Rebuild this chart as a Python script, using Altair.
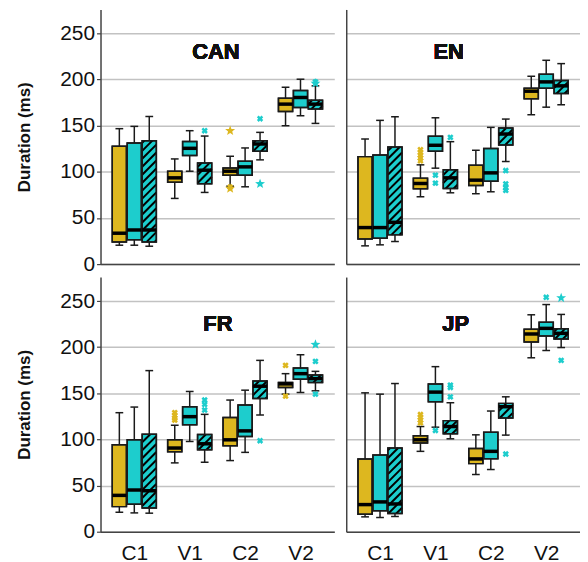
import math
import altair as alt
import pandas as pd

PANELS = ["CAN", "EN", "FR", "JP"]
CATEGORIES = ["C1", "V1", "C2", "V2"]
SERIES = ["gold", "cyan", "cyan_hatched"]
SERIES_COLORS = ["#DDB71F", "#1DCDCD", "#1DCDCD"]

# (lower whisker, Q1, median, Q3, upper whisker); order: C1 gold/cyan/hatched, V1 ..., C2 ..., V2 ...
CAN_BOXES = [
    (20.5, 24.1, 33.5, 127.7, 146.8), (20.5, 26.3, 37.0, 131.3, 149.3), (19.4, 24.1, 37.0, 133.8, 160.0),
    (71.2, 88.8, 93.5, 100.7, 114.0), (100.7, 117.6, 125.5, 133.0, 144.6), (77.7, 87.0, 101.8, 109.7, 138.8),
    (84.5, 96.4, 100.7, 104.3, 116.9), (83.8, 96.4, 105.4, 111.5, 125.9), (113.0, 122.3, 130.2, 133.8, 142.8),
    (150.0, 165.5, 173.4, 179.9, 191.7), (160.8, 169.8, 180.6, 188.1, 200.4), (152.5, 168.0, 173.4, 177.7, 193.2),
]
EN_BOXES = [
    (19.8, 27.3, 39.6, 116.5, 135.6), (20.9, 28.1, 39.6, 118.3, 155.8), (24.5, 31.7, 45.3, 127.0, 159.7),
    (73.0, 81.7, 87.4, 93.2, 107.6), (104.0, 122.3, 128.8, 138.5, 158.6), (77.3, 82.0, 93.5, 102.2, 132.7),
    (76.3, 85.3, 91.0, 107.2, 123.4), (78.4, 89.9, 98.9, 125.2, 148.2), (111.2, 129.1, 141.0, 147.5, 157.2),
    (161.9, 179.1, 187.4, 190.6, 203.6), (170.1, 190.6, 197.5, 205.8, 220.9), (172.7, 184.9, 193.2, 198.9, 217.3),
]
FR_BOXES = [
    (21.1, 27.2, 39.4, 94.3, 129.0), (20.4, 29.7, 45.2, 99.6, 135.1), (20.1, 25.8, 44.4, 105.7, 174.6),
    (74.6, 86.7, 90.7, 99.6, 115.4), (97.8, 115.8, 124.7, 135.5, 152.0), (75.3, 88.9, 95.3, 105.4, 127.2),
    (77.1, 93.2, 99.6, 123.7, 142.7), (86.0, 103.2, 109.3, 137.3, 153.4), (126.5, 144.4, 157.7, 163.4, 185.7),
    (149.1, 156.3, 160.2, 161.6, 171.3), (150.9, 165.2, 171.3, 177.4, 191.8), (152.7, 161.6, 165.9, 169.9, 173.8),
]
JP_BOXES = [
    (16.1, 19.0, 29.4, 78.9, 150.5), (15.4, 22.6, 32.3, 83.2, 149.1), (16.5, 19.7, 30.1, 90.7, 160.6),
    (87.1, 96.1, 99.6, 103.9, 114.0), (113.3, 140.9, 151.3, 160.2, 178.9), (100.7, 106.1, 114.0, 120.4, 139.8),
    (62.0, 73.8, 78.9, 90.3, 105.0), (67.4, 79.2, 87.1, 107.9, 130.8), (104.7, 123.3, 135.5, 139.1, 146.2),
    (188.5, 205.7, 214.3, 219.4, 235.1), (196.4, 212.2, 220.4, 226.9, 246.2), (199.6, 208.9, 215.0, 220.1, 235.5),
]

# outliers: (category, series index, value, kind)
CAN_OUT = [("V1", 2, 144.6, "x"), ("C2", 0, 144.6, "star"), ("C2", 0, 83.5, "x"), ("C2", 0, 82.0, "star"),
           ("C2", 2, 157.6, "x"), ("C2", 2, 87.0, "star"), ("V2", 2, 197.5, "x"), ("V2", 2, 196.0, "star")]
EN_OUT = [("V1", 0, 124.0, "x"), ("V1", 0, 121.0, "x"), ("V1", 0, 118.0, "x"), ("V1", 0, 115.0, "x"),
          ("V1", 0, 112.0, "x"), ("V1", 1, 96.4, "x"), ("V1", 1, 87.8, "x"), ("V1", 2, 137.4, "x"),
          ("C2", 2, 101.4, "x"), ("C2", 2, 87.0, "x"), ("C2", 2, 82.7, "x"), ("C2", 2, 79.9, "x")]
FR_OUT = [("V1", 0, 129.0, "x"), ("V1", 0, 126.0, "x"), ("V1", 0, 123.0, "x"), ("V1", 0, 121.0, "x"),
          ("V1", 2, 142.7, "x"), ("V1", 2, 138.0, "x"), ("V1", 2, 131.9, "x"), ("C2", 2, 98.6, "x"),
          ("V2", 0, 180.3, "x"), ("V2", 0, 147.0, "x"), ("V2", 2, 202.9, "star"), ("V2", 2, 184.6, "x"),
          ("V2", 2, 149.1, "x")]
JP_OUT = [("V1", 0, 127.0, "x"), ("V1", 0, 124.0, "x"), ("V1", 0, 121.0, "x"), ("V1", 0, 118.0, "x"),
          ("V1", 1, 109.7, "x"), ("V1", 2, 158.8, "x"), ("V1", 2, 156.3, "x"), ("V1", 2, 146.2, "x"),
          ("C2", 2, 84.2, "x"), ("V2", 1, 254.1, "x"), ("V2", 2, 253.4, "star"), ("V2", 2, 185.7, "x")]

Y_TICKS = [0, 50, 100, 150, 200, 250]

# layout constants
W, H = 235, 256
XDOM = [-0.61, 3.61]
YDOM = [0, 276]
OFFSETS = [-0.27, 0.0, 0.27]
HALF_BOX = 0.128
HALF_CAP = 0.07
HATCH_STEP = 8.0  # px, vertical period of hatch lines
FONT = "Liberation Sans"

PX_X = W / (XDOM[1] - XDOM[0])
PX_Y = H / (YDOM[1] - YDOM[0])

# five-pointed star symbol path (unit square)
_pts = []
for k in range(10):
    r = 1.0 if k % 2 == 0 else 0.42
    a = math.radians(-90 + 36 * k)
    _pts.append(f"{r * math.cos(a):.3f},{r * math.sin(a):.3f}")
STAR_PATH = "M" + " L".join(_pts) + " Z"


def hatch_segments(x0, x1, y0, y1):
    X0, X1 = (x0 - XDOM[0]) * PX_X, (x1 - XDOM[0]) * PX_X
    Y0, Y1 = (y0 - YDOM[0]) * PX_Y, (y1 - YDOM[0]) * PX_Y
    segs = []
    c = (int((Y0 - X1) // HATCH_STEP) + 1) * HATCH_STEP
    while c < Y1 - X0:
        xa = max(X0, Y0 - c)
        xb = min(X1, Y1 - c)
        if xb > xa + 0.5:
            segs.append((xa / PX_X + XDOM[0], (xa + c) / PX_Y + YDOM[0],
                         xb / PX_X + XDOM[0], (xb + c) / PX_Y + YDOM[0]))
        c += HATCH_STEP
    return segs


def make_panel(name, boxes, outliers, x_labels, y_labels, title_x, title_y):
    rows = []
    hatch = []
    for i, (lw, q1, med, q3, uw) in enumerate(boxes):
        ci, si = divmod(i, 3)
        pos = ci + OFFSETS[si]
        rows.append(dict(series=SERIES[si], pos=pos, left=pos - HALF_BOX, right=pos + HALF_BOX,
                         capl=pos - HALF_CAP, capr=pos + HALF_CAP,
                         lw=lw, q1=q1, med=med, q3=q3, uw=uw))
        if si == 2:
            for (a, b, c, d) in hatch_segments(pos - HALF_BOX, pos + HALF_BOX, q1, q3):
                hatch.append(dict(hx1=a, hy1=b, hx2=c, hy2=d))
    df = pd.DataFrame(rows)
    hdf = pd.DataFrame(hatch)
    odf = pd.DataFrame([dict(series=SERIES[s], pos=CATEGORIES.index(c) + OFFSETS[s], val=v, kind=k)
                        for (c, s, v, k) in outliers])

    xaxis = alt.Axis(values=[0, 1, 2, 3], labelExpr="['C1','V1','C2','V2'][round(datum.value)]",
                     labels=x_labels, ticks=False, grid=False, domain=True, title=None,
                     labelFontSize=21, labelPadding=11 if x_labels else 0, labelColor="#111",
                     labelFont=FONT, domainColor="#444", domainWidth=1.5)
    yaxis = alt.Axis(values=Y_TICKS, labels=y_labels, ticks=y_labels, tickSize=4, tickColor="#444",
                     tickWidth=1.2,
                     grid=True, gridColor="#c2c2c2", gridWidth=1.5, domain=True,
                     domainColor="#444", domainWidth=1.5,
                     title="Duration (ms)" if y_labels else None,
                     titleFontSize=17, titleFontWeight="bold", titleFont=FONT, titleColor="#111",
                     titlePadding=26, labelFontSize=21, labelColor="#111", labelFont=FONT,
                     labelPadding=2 if y_labels else 0)
    xs = alt.Scale(domain=XDOM, nice=False, zero=False)
    ys = alt.Scale(domain=YDOM, nice=False, zero=True)

    def X(f):
        return alt.X(f, type="quantitative", scale=xs, axis=xaxis)

    def Y(f):
        return alt.Y(f, type="quantitative", scale=ys, axis=yaxis)

    col = alt.Color("series:N", scale=alt.Scale(domain=SERIES, range=SERIES_COLORS), legend=None)
    base = alt.Chart(df)
    stroke = "#1a1a1a"

    wlo = base.mark_rule(color=stroke, strokeWidth=1.5).encode(x=X("pos"), y=Y("lw"), y2="q1")
    whi = base.mark_rule(color=stroke, strokeWidth=1.5).encode(x=X("pos"), y=Y("q3"), y2="uw")
    caplo = base.mark_rule(color=stroke, strokeWidth=1.5).encode(x=X("capl"), x2="capr", y=Y("lw"))
    caphi = base.mark_rule(color=stroke, strokeWidth=1.5).encode(x=X("capl"), x2="capr", y=Y("uw"))
    box = base.mark_rect(stroke=stroke, strokeWidth=1.5).encode(
        x=X("left"), x2="right", y=Y("q1"), y2="q3", fill=col)
    hat = alt.Chart(hdf).mark_rule(color="#000", strokeWidth=2).encode(
        x=X("hx1"), y=Y("hy1"), x2="hx2", y2="hy2")
    boxline = base.mark_rect(stroke=stroke, strokeWidth=1.5, fillOpacity=0).encode(
        x=X("left"), x2="right", y=Y("q1"), y2="q3")
    med = base.mark_rule(color="#000", strokeWidth=3.5).encode(x=X("left"), x2="right", y=Y("med"))
    ox = alt.Chart(odf).transform_filter("datum.kind == 'x'").mark_point(
        shape="cross", angle=45, filled=True, size=42, opacity=1).encode(x=X("pos"), y=Y("val"), fill=col)
    ostar = alt.Chart(odf).transform_filter("datum.kind == 'star'").mark_point(
        shape=STAR_PATH, filled=True, size=110, opacity=1).encode(x=X("pos"), y=Y("val"), fill=col)
    title = alt.Chart(df).mark_text(text=name, fontSize=22, fontWeight="bold", font=FONT,
                                    color="#111", baseline="middle", align="center").encode(
        x=alt.value(title_x), y=alt.value(title_y))

    return alt.layer(wlo, whi, caplo, caphi, box, hat, boxline, med, ox, ostar, title).properties(
        width=W, height=H)


p_can = make_panel("CAN", CAN_BOXES, CAN_OUT, False, True, 116, 43)
p_en = make_panel("EN", EN_BOXES, EN_OUT, False, False, 103, 43)
p_fr = make_panel("FR", FR_BOXES, FR_OUT, True, True, 118, 47)
p_jp = make_panel("JP", JP_BOXES, JP_OUT, True, False, 110, 47)

chart = alt.vconcat(
    alt.hconcat(p_can, p_en, spacing=12),
    alt.hconcat(p_fr, p_jp, spacing=12),
    spacing=3,
).properties(padding={"left": 7, "top": 0, "right": 0, "bottom": 2}).configure(
    font=FONT).configure_view(stroke=None)

chart.save("out.html", embed_options={"renderer": "svg", "actions": False})
